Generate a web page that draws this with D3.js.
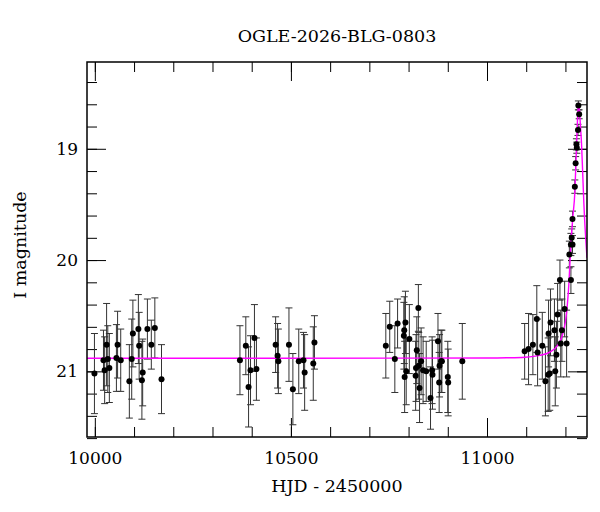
<!DOCTYPE html>
<html>
<head>
<meta charset="utf-8">
<script src="https://cdn.jsdelivr.net/npm/d3@7"></script>
<style>
  body { margin: 0; background: #fff; }
  text { font-family: "DejaVu Serif", serif; fill: #000; }
</style>
</head>
<body>
<div id="chart"></div>
<script>
const chartTitle = 'OGLE-2026-BLG-0803';
const xAxisTitle = 'HJD - 2450000';
const yAxisTitle = 'I magnitude';

// observations: HJD - 2450000, I mag, 1-sigma error
const obsHjd = [
  9999, 10022, 10025, 10030, 10033, 10037, 10055, 10058, 10066, 10088,
  10094, 10097, 10111, 10113, 10120, 10122, 10134, 10144, 10153, 10170,
  10370, 10385, 10392, 10397, 10407, 10412, 10461, 10466, 10468, 10495,
  10505, 10520, 10532, 10535, 10557, 10560,
  10742, 10752, 10765, 10772, 10788, 10789, 10792, 10790, 10794, 10802,
  10818, 10821, 10825, 10819, 10826, 10828, 10832, 10837, 10845, 10856,
  10860, 10861, 10875, 10879, 10878, 10883, 10885, 10900, 10901, 10937,
  11096, 11106, 11117, 11127, 11129, 11141, 11149, 11156, 11160, 11157,
  11162, 11172, 11174, 11177, 11180, 11186, 11188, 11191, 11198, 11203,
  11210, 11214, 11214, 11218, 11216, 11218, 11224, 11226, 11229, 11228,
  11232, 11235, 11233
];
const obsMag = [
  21.02, 20.90, 20.99, 20.76, 20.89, 20.97, 20.88, 20.76, 20.90, 21.09,
  20.89, 20.66, 20.62, 20.77, 21.08, 21.01, 20.62, 20.76, 20.61, 21.07,
  20.90, 20.77, 21.14, 20.99, 20.70, 20.98, 20.76, 20.86, 20.91, 20.76,
  21.16, 20.91, 20.90, 21.01, 20.93, 20.74,
  20.77, 20.60, 20.89, 20.57, 20.68, 20.63, 20.56, 21.05, 21.00, 20.71,
  21.04, 20.81, 20.43, 20.97, 20.95, 21.15, 20.91, 20.99, 21.00, 21.24,
  20.99, 21.03, 20.73, 20.95, 21.10, 20.91, 20.91, 21.05, 21.10, 20.91,
  20.82, 20.80, 20.76, 20.53, 20.83, 20.77, 21.09, 21.03, 21.02, 20.66,
  20.56, 20.63, 21.00, 20.85, 20.49, 20.18, 20.75, 20.63, 20.44, 20.75,
  19.95, 20.18, 19.86, 19.86, 19.80, 19.63, 19.34, 19.13, 18.99, 18.96,
  18.83, 18.69, 18.61
];
const obsErr = [
  0.36, 0.27, 0.30, 0.37, 0.30, 0.31, 0.30, 0.30, 0.28, 0.33,
  0.36, 0.30, 0.31, 0.30, 0.35, 0.30, 0.27, 0.22, 0.27, 0.31,
  0.31, 0.26, 0.36, 0.31, 0.30, 0.28, 0.25, 0.29, 0.29, 0.33,
  0.32, 0.29, 0.25, 0.34, 0.33, 0.24,
  0.29, 0.23, 0.30, 0.22, 0.30, 0.30, 0.28, 0.32, 0.30, 0.31,
  0.31, 0.30, 0.21, 0.30, 0.30, 0.31, 0.30, 0.30, 0.27, 0.28,
  0.30, 0.31, 0.25, 0.28, 0.27, 0.28, 0.28, 0.32, 0.30, 0.34,
  0.25, 0.32, 0.27, 0.30, 0.30, 0.30, 0.31, 0.33, 0.33, 0.30,
  0.30, 0.28, 0.31, 0.30, 0.28, 0.18, 0.30, 0.28, 0.25, 0.30,
  0.12, 0.12, 0.10, 0.08, 0.08, 0.07, 0.06, 0.06, 0.05, 0.05,
  0.05, 0.04, 0.04
];

// model light curve
const modelHjd = [9980, 10500, 11000, 11050, 11096, 11134, 11160, 11181, 11194, 11203,
  11209, 11214, 11219, 11224, 11228, 11231, 11233, 11236, 11238, 11241,
  11245, 11247, 11255];
const modelMag = [20.882, 20.882, 20.880, 20.878, 20.873, 20.857, 20.827, 20.761, 20.653, 20.473,
  20.20, 19.85, 19.61, 19.39, 19.00, 18.72, 18.59, 18.66, 18.78, 18.95,
  19.31, 19.49, 19.98];

const xMajorTicks = [10000, 10500, 11000];
const xMinorTicks = d3.range(10000, 11300, 100);
const yMajorTicks = [19, 20, 21];
const yMinorTicks = d3.range(18.4, 21.6, 0.2);

const containerWidth = 600;
const containerHeight = 512;
const margin = { top: 62, right: 13, bottom: 75, left: 87 };
const width = containerWidth - margin.left - margin.right;
const height = containerHeight - margin.top - margin.bottom;

const svg = d3.select('#chart').append('svg')
  .attr('width', containerWidth)
  .attr('height', containerHeight);

const chartArea = svg.append('g')
  .attr('transform', `translate(${margin.left},${margin.top})`);

const xScale = d3.scaleLinear().domain([9980, 11255]).range([0, width]);
const yScale = d3.scaleLinear().domain([18.22, 21.59]).range([0, height]);

/* clip for data and model */
svg.append('defs').append('clipPath').attr('id', 'plot-clip')
  .append('rect').attr('width', width).attr('height', height);

/* axes: ticks point inward on all four sides */
const majorLen = 19;
const minorLen = 10;

const styleAxis = (g) => {
  g.select('.domain').remove();
  g.selectAll('.tick line').attr('stroke', '#000').attr('stroke-width', 1);
  g.selectAll('.tick text').style('font-size', '17px').style('font-family', '"DejaVu Serif", serif');
};

chartArea.append('g')
  .attr('transform', `translate(0,${height})`)
  .call(d3.axisBottom(xScale).tickValues(xMinorTicks).tickSize(-minorLen).tickFormat(''))
  .call(styleAxis);
chartArea.append('g')
  .attr('transform', `translate(0,${height})`)
  .call(d3.axisBottom(xScale).tickValues(xMajorTicks).tickSize(-majorLen).tickPadding(15).tickFormat(d3.format('d')))
  .call(styleAxis);
chartArea.append('g')
  .call(d3.axisTop(xScale).tickValues(xMinorTicks).tickSize(-minorLen).tickFormat(''))
  .call(styleAxis);
chartArea.append('g')
  .call(d3.axisTop(xScale).tickValues(xMajorTicks).tickSize(-majorLen).tickFormat(''))
  .call(styleAxis);

chartArea.append('g')
  .call(d3.axisLeft(yScale).tickValues(yMinorTicks).tickSize(-minorLen).tickFormat(''))
  .call(styleAxis);
chartArea.append('g')
  .call(d3.axisLeft(yScale).tickValues(yMajorTicks).tickSize(-majorLen).tickPadding(9).tickFormat(d3.format('d')))
  .call(styleAxis);
chartArea.append('g')
  .attr('transform', `translate(${width},0)`)
  .call(d3.axisRight(yScale).tickValues(yMinorTicks).tickSize(-minorLen).tickFormat(''))
  .call(styleAxis);
chartArea.append('g')
  .attr('transform', `translate(${width},0)`)
  .call(d3.axisRight(yScale).tickValues(yMajorTicks).tickSize(-majorLen).tickFormat(''))
  .call(styleAxis);

/* data */
const obs = obsHjd.map((t, i) => ({ t, m: obsMag[i], e: obsErr[i] }));
const model = modelHjd.map((t, i) => ({ t, m: modelMag[i] }));

const plot = chartArea.append('g').attr('clip-path', 'url(#plot-clip)');

const capW = 3.5;
const bars = plot.append('g')
  .attr('stroke', '#333')
  .attr('stroke-width', 1)
  .selectAll('g')
  .data(obs)
  .join('g');
bars.append('line')
  .attr('x1', (d) => xScale(d.t)).attr('x2', (d) => xScale(d.t))
  .attr('y1', (d) => yScale(d.m - d.e)).attr('y2', (d) => yScale(d.m + d.e));
bars.append('line')
  .attr('x1', (d) => xScale(d.t) - capW).attr('x2', (d) => xScale(d.t) + capW)
  .attr('y1', (d) => yScale(d.m - d.e)).attr('y2', (d) => yScale(d.m - d.e));
bars.append('line')
  .attr('x1', (d) => xScale(d.t) - capW).attr('x2', (d) => xScale(d.t) + capW)
  .attr('y1', (d) => yScale(d.m + d.e)).attr('y2', (d) => yScale(d.m + d.e));

plot.append('path')
  .datum(model)
  .attr('fill', 'none')
  .attr('stroke', '#ff00ff')
  .attr('stroke-width', 1.4)
  .attr('d', d3.line().x((d) => xScale(d.t)).y((d) => yScale(d.m)).curve(d3.curveMonotoneX));

plot.append('g')
  .selectAll('circle')
  .data(obs)
  .join('circle')
  .attr('cx', (d) => xScale(d.t))
  .attr('cy', (d) => yScale(d.m))
  .attr('r', 3)
  .attr('fill', '#000');

/* frame */
chartArea.append('rect')
  .attr('width', width).attr('height', height)
  .attr('fill', 'none').attr('stroke', '#000').attr('stroke-width', 1.5);

/* titles */
svg.append('text')
  .attr('x', margin.left + width / 2).attr('y', 42)
  .attr('text-anchor', 'middle')
  .style('font-size', '17.5px')
  .text(chartTitle);
svg.append('text')
  .attr('x', margin.left + width / 2).attr('y', 492)
  .attr('text-anchor', 'middle')
  .style('font-size', '17.5px')
  .text(xAxisTitle);
svg.append('text')
  .attr('transform', `translate(26,${margin.top + 183})rotate(-90)`)
  .attr('text-anchor', 'middle')
  .style('font-size', '17.5px')
  .text(yAxisTitle);
</script>
</body>
</html>
